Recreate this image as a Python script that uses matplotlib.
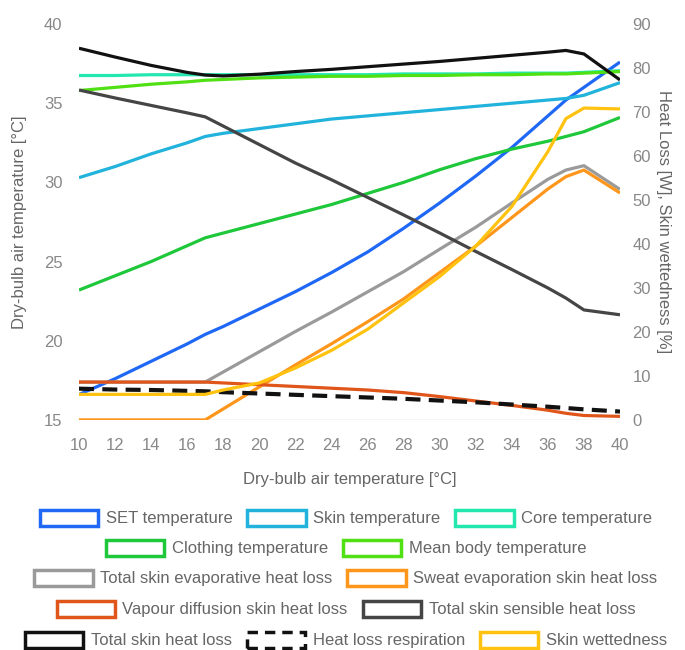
import matplotlib
matplotlib.use('Agg')
import matplotlib.pyplot as plt
from matplotlib.patches import Rectangle

plt.rcParams['font.family'] = ['Liberation Sans', 'DejaVu Sans']

# dry-bulb air temperature [°C]
air_temp = [10, 12, 14, 16, 17, 18, 20, 22, 24, 26, 28, 30, 32, 34, 36, 37, 38, 40]

# temperatures [°C], left axis
set_temp = [16.6, 17.6, 18.7, 19.8, 20.4, 20.9, 22.0, 23.1, 24.3, 25.6, 27.1, 28.7, 30.4, 32.2, 34.2, 35.2, 36.0, 37.6]
skin_temp = [30.3, 31.0, 31.8, 32.5, 32.9, 33.1, 33.4, 33.7, 34.0, 34.2, 34.4, 34.6, 34.8, 35.0, 35.2, 35.3, 35.5, 36.3]
core_temp = [36.75, 36.75, 36.8, 36.8, 36.8, 36.8, 36.8, 36.8, 36.8, 36.8, 36.85, 36.85, 36.85, 36.9, 36.9, 36.9, 36.95, 37.05]
clothing_temp = [23.2, 24.1, 25.0, 26.0, 26.5, 26.8, 27.4, 28.0, 28.6, 29.3, 30.0, 30.8, 31.5, 32.1, 32.6, 32.9, 33.2, 34.1]
mean_body_temp = [35.8, 36.0, 36.2, 36.35, 36.45, 36.5, 36.6, 36.65, 36.7, 36.7, 36.75, 36.75, 36.8, 36.8, 36.85, 36.85, 36.9, 37.0]

# heat losses [W] and skin wettedness [%], right axis
evap_total = [8.6, 8.6, 8.6, 8.6, 8.6, 10.9, 15.5, 20.1, 24.5, 29.1, 33.7, 38.8, 43.8, 49.3, 54.7, 56.8, 57.8, 52.4]
sweat_evap = [0, 0, 0, 0, 0, 2.5, 7.5, 12.5, 17.3, 22.3, 27.5, 33.5, 39.5, 46.0, 52.5, 55.3, 56.8, 51.6]
vapour_diff = [8.6, 8.6, 8.6, 8.6, 8.6, 8.4, 8.0, 7.6, 7.2, 6.8, 6.2, 5.3, 4.3, 3.3, 2.2, 1.5, 1.0, 0.8]
sensible = [75.0, 73.2, 71.5, 69.8, 68.9, 66.8, 62.6, 58.4, 54.6, 50.6, 46.6, 42.5, 38.3, 34.2, 30.0, 27.7, 25.0, 23.9]
skin_total = [84.5, 82.5, 80.6, 79.0, 78.4, 78.2, 78.6, 79.2, 79.7, 80.3, 80.9, 81.5, 82.2, 82.9, 83.6, 84.0, 83.2, 77.3]
respiration = [7.1, 6.9, 6.8, 6.6, 6.5, 6.3, 6.0, 5.7, 5.4, 5.1, 4.8, 4.4, 4.0, 3.5, 3.0, 2.7, 2.4, 1.9]
wettedness = [5.8, 5.8, 5.8, 5.8, 5.8, 6.8, 8.4, 11.8, 15.8, 20.6, 26.6, 32.6, 39.5, 48.5, 61.0, 68.5, 70.9, 70.7]

left_series = [
    ('SET temperature', set_temp, '#1f68f5', '-'),
    ('Skin temperature', skin_temp, '#21b3dc', '-'),
    ('Core temperature', core_temp, '#22e8b0', '-'),
    ('Clothing temperature', clothing_temp, '#1fc83a', '-'),
    ('Mean body temperature', mean_body_temp, '#50e014', '-'),
]
right_series = [
    ('Total skin evaporative heat loss', evap_total, '#9a9a9a', '-'),
    ('Sweat evaporation skin heat loss', sweat_evap, '#ff961c', '-'),
    ('Vapour diffusion skin heat loss', vapour_diff, '#e0561a', '-'),
    ('Total skin sensible heat loss', sensible, '#454545', '-'),
    ('Total skin heat loss', skin_total, '#111111', '-'),
    ('Heat loss respiration', respiration, '#111111', (0, (3.6, 2.0))),
    ('Skin wettedness', wettedness, '#ffc20e', '-'),
]

tick_col = '#888888'
label_col = '#666666'

fig = plt.figure(figsize=(6.85, 6.5), dpi=100)
ax = fig.add_axes([0.1153, 0.354, 0.7898, 0.609])
ax2 = ax.twinx()

ax2.axhline(0, color='#d0d0d0', lw=1.0, zorder=0)

for name, vals, col, ls in left_series:
    ax.plot(air_temp, vals, color=col, lw=2.3, solid_capstyle='butt')
for name, vals, col, ls in right_series:
    lw = 3.0 if name == 'Heat loss respiration' else 2.3
    ax2.plot(air_temp, vals, color=col, lw=lw, linestyle=ls, solid_capstyle='butt')

ax.set_xlim(10, 40)
ax.set_ylim(15, 40)
ax2.set_ylim(0, 90)
ax.set_xticks(range(10, 41, 2))
ax.set_yticks(range(15, 41, 5))
ax2.set_yticks(range(0, 91, 10))

for a in (ax, ax2):
    for s in a.spines.values():
        s.set_visible(False)
ax.tick_params(axis='x', length=0, pad=13, labelsize=12, labelcolor=tick_col)
ax.tick_params(axis='y', length=0, pad=12, labelsize=12, labelcolor=tick_col)
ax2.tick_params(axis='y', length=0, pad=9, labelsize=12, labelcolor=tick_col)

ax.set_xlabel('Dry-bulb air temperature [°C]', fontsize=12, color=label_col, labelpad=14)
ax.set_ylabel('Dry-bulb air temperature [°C]', fontsize=12, color=label_col, labelpad=12)
ax2.set_ylabel('Heat Loss [W], Skin wettedness [%]', fontsize=12, color=label_col,
               rotation=270, labelpad=14)

# legend: hollow boxes, five centred rows
styles = {name: (col, ls) for name, vals, col, ls in left_series + right_series}
rows = [
    ['SET temperature', 'Skin temperature', 'Core temperature'],
    ['Clothing temperature', 'Mean body temperature'],
    ['Total skin evaporative heat loss', 'Sweat evaporation skin heat loss'],
    ['Vapour diffusion skin heat loss', 'Total skin sensible heat loss'],
    ['Total skin heat loss', 'Heat loss respiration', 'Skin wettedness'],
]
row_y = [518, 548, 578, 609, 640]
for names, yp in zip(rows, row_y):
    handles = []
    for n in names:
        col, ls = styles[n]
        if ls == '-':
            handles.append(Rectangle((0, 0), 1, 1, facecolor='white', edgecolor=col, lw=2.5))
        else:
            handles.append(Rectangle((0, 0), 1, 1, facecolor='white', edgecolor=col, lw=2.5,
                                     linestyle=(0, (3, 2))))
    fig.legend(handles, names, loc='center', bbox_to_anchor=(0.505, 1 - yp / 650),
               ncol=len(names), frameon=False, fontsize=12, labelcolor='#666666',
               handlelength=3.5, handleheight=1.1, handletextpad=0.45,
               columnspacing=0.9, borderpad=0, borderaxespad=0)

fig.savefig('out.png', dpi=100)
